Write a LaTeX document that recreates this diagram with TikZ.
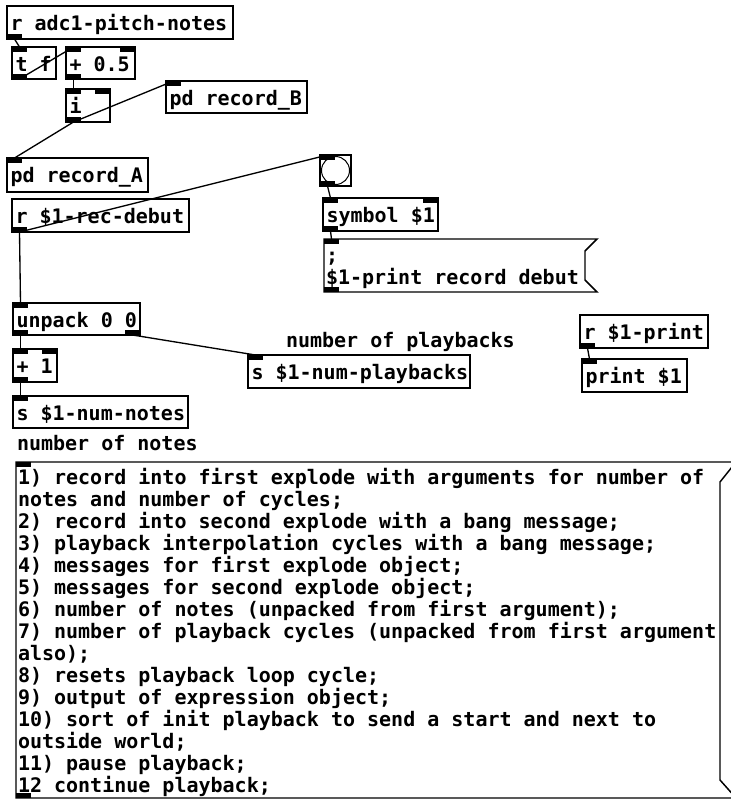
\documentclass[tikz,border=0pt]{standalone}
\usepackage{fontspec}
\newfontfamily\pdfont{DejaVu Sans Mono}
\newcommand{\pdobject}[6]{%
  \node[objbox, minimum width={(#4-#2)*0.75pt}, minimum height={(#5-#3)*0.75pt}, anchor=north west] (#1) at (#2,#3) {};
  \node[pdtext, anchor=base west] (#1-t) at ({#2+3.5},{#3+24}) {#6};
}
\newcommand{\pdin}[3]{\node[iolet, anchor=north west] (#1) at (#2,#3) {};}
\newcommand{\pdinr}[3]{\node[iolet, anchor=north east] (#1) at (#2,#3) {};}
\newcommand{\pdout}[3]{\node[iolet, anchor=south west] (#1) at (#2,#3) {};}
\newcommand{\pdoutr}[3]{\node[iolet, anchor=south east] (#1) at (#2,#3) {};}
\begin{document}
\begin{tikzpicture}[x=0.75pt,y=-0.75pt,
  objbox/.style={draw=black, line width=1.1pt, inner sep=0pt, outer sep=0pt},
  boxline/.style={draw=black, line width=1.1pt, line join=miter},
  pdtext/.style={inner sep=0pt, outer sep=0pt, font=\pdfont\bfseries\fontsize{15pt}{16.5pt}\selectfont, text=black},
  iolet/.style={fill=black, draw=none, inner sep=0pt, outer sep=0pt, minimum width=11.25pt, minimum height=3.6pt},
  conn/.style={draw=black, line width=1pt}]
\useasboundingbox (0,0) rectangle (731,801);
\fill[white] (0,0) rectangle (731,801);
\clip (0,0) rectangle (731,801);

% object boxes
\pdobject{radc}{7}{6}{233}{39}{r adc1-pitch-notes}
\pdobject{tf}{12}{47}{56}{79}{t f}
\pdobject{pl}{66}{47}{135}{79}{+ 0.5}
\pdobject{ii}{66}{89}{110}{122}{i}
\pdobject{recB}{166}{81}{307}{113}{pd record\_B}
\pdobject{recA}{7}{158}{148}{192}{pd record\_A}
\pdobject{rdeb}{12}{199}{189}{232}{r \$1-rec-debut}
\pdobject{sym}{323}{198}{438}{231}{symbol \$1}
\pdobject{unp}{13}{303}{140}{335}{unpack 0 0}
\pdobject{plone}{13}{349}{57}{382}{+ 1}
\pdobject{snotes}{13}{396}{188}{428}{s \$1-num-notes}
\pdobject{splay}{248}{355}{470}{388}{s \$1-num-playbacks}
\pdobject{rprint}{580}{315}{708}{348}{r \$1-print}
\pdobject{prt}{582}{359}{687}{392}{print \$1}

% bang
\node[objbox, minimum width=23.25pt, minimum height=23.25pt, anchor=north west] (bang) at (320,155) {};
\draw[line width=0.75pt] (bang.center) circle[radius=14];

% message box
\node[inner sep=0pt, outer sep=0pt, minimum width={(585-324)*0.75pt}, minimum height={(292-239)*0.75pt}, anchor=north west] (msg) at (324,239) {};
\draw[boxline] (324,239) -- (597,239) -- (585,251) -- (585,280) -- (597,292) -- (324,292) -- cycle;
\node[pdtext, anchor=base west] (msg-t1) at (326,262) {;};
\node[pdtext, anchor=base west] (msg-t2) at (326,284) {\$1-print record debut};

% big message box
\node[inner sep=0pt, outer sep=0pt, minimum width={(720-16)*0.75pt}, minimum height={(798-462)*0.75pt}, anchor=north west] (big) at (16,462) {};
\draw[boxline] (16,462) -- (736,462) -- (720,482) -- (720,780) -- (736,798) -- (16,798) -- cycle;
\foreach \lintext [count=\i from 0] in {
  {1) record into first explode with arguments for number of},
  {notes and number of cycles;},
  {2) record into second explode with a bang message;},
  {3) playback interpolation cycles with a bang message;},
  {4) messages for first explode object;},
  {5) messages for second explode object;},
  {6) number of notes (unpacked from first argument);},
  {7) number of playback cycles (unpacked from first argument},
  {also);},
  {8) resets playback loop cycle;},
  {9) output of expression object;},
  {10) sort of init playback to send a start and next to},
  {outside world;},
  {11) pause playback;},
  {12 continue playback;}}
  \node[pdtext, anchor=base west] (big-l\i) at (18,{484+22*\i}) {\lintext};

% comments
\node[pdtext, anchor=base west] (cplay) at (286,347) {number of playbacks};
\node[pdtext, anchor=base west] (cnotes) at (17,450) {number of notes};

% inlets / outlets
\pdout{radc-o0}{7}{39}
\pdin{tf-i0}{12}{47}
\pdout{tf-o0}{12}{79}
\pdin{pl-i0}{66}{47}
\pdinr{pl-i1}{135}{47}
\pdout{pl-o0}{66}{79}
\pdin{ii-i0}{66}{89}
\pdinr{ii-i1}{110}{89}
\pdout{ii-o0}{66}{122}
\pdin{recB-i0}{166}{81}
\pdin{recA-i0}{7}{158}
\pdout{rdeb-o0}{12}{232}
\pdin{bang-i0}{320}{155}
\pdout{bang-o0}{320}{186}
\pdin{sym-i0}{323}{198}
\pdinr{sym-i1}{438}{198}
\pdout{sym-o0}{323}{231}
\pdin{msg-i0}{324}{239}
\pdout{msg-o0}{324}{292}
\pdin{unp-i0}{13}{303}
\pdout{unp-o0}{13}{335}
\pdoutr{unp-o1}{140}{335}
\pdin{plone-i0}{13}{349}
\pdinr{plone-i1}{57}{349}
\pdout{plone-o0}{13}{382}
\pdin{snotes-i0}{13}{396}
\pdin{splay-i0}{248}{355}
\pdout{rprint-o0}{580}{348}
\pdin{prt-i0}{582}{359}
\pdin{big-i0}{16}{462}
\pdout{big-o0}{16}{798}

% connections
\draw[conn] (radc-o0.south) -- (tf-i0.north);
\draw[conn] (tf-o0.south) -- (pl-i0.north);
\draw[conn] (pl-o0.south) -- (ii-i0.north);
\draw[conn] (ii-o0.south) -- (recA-i0.north);
\draw[conn] (ii-o0.south) -- (recB-i0.north);
\draw[conn] (rdeb-o0.south) -- (bang-i0.north);
\draw[conn] (rdeb-o0.south) -- (unp-i0.north);
\draw[conn] (bang-o0.south) -- (sym-i0.north);
\draw[conn] (sym-o0.south) -- (msg-i0.north);
\draw[conn] (unp-o0.south) -- (plone-i0.north);
\draw[conn] (unp-o1.south) -- (splay-i0.north);
\draw[conn] (plone-o0.south) -- (snotes-i0.north);
\draw[conn] (rprint-o0.south) -- (prt-i0.north);
\end{tikzpicture}
\end{document}
